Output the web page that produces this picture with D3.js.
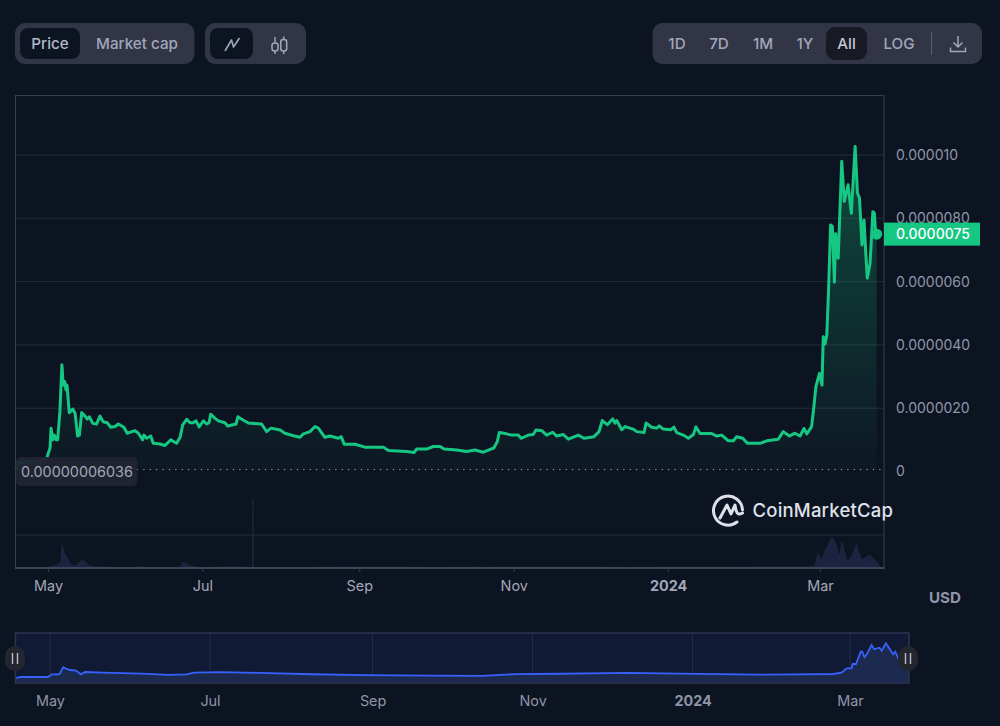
<!DOCTYPE html>
<html>
<head>
<meta charset="utf-8">
<title>Price chart</title>
<script src="https://cdn.jsdelivr.net/npm/d3@7/dist/d3.min.js"></script>
<style>
  html, body { margin: 0; padding: 0; background: #0d1421; }
  svg { display: block; }
  text { font-family: Inter, "Noto Sans", sans-serif; }
</style>
</head>
<body>
<svg id="chart" width="1000" height="726"></svg>
<script>
// Price series: days since 2023-05-01 and price in millionths of a dollar
const priceDays = [-12.6,-12,-8,-3,-0.5,0.8,1.2,1.9,2.5,3.2,3.8,4.7,5.5,6,6.6,7.1,7.5,8.4,9.8,10.7,11.7,12.4,13.3,14.6,15.5,16.3,17.7,19.2,20.5,21.8,23.4,24.8,26.5,27.8,30,31.3,34.4,35.7,37.4,37.9,39,40.6,41.6,44.3,46.2,48.5,50.8,52.2,53.2,54.8,56.1,57.3,58.5,59.7,61.4,62.7,63.6,64.3,66,67.3,69.9,71,74.3,75,75.9,79.1,84.4,86.4,88.1,91.7,93.6,96.9,99.6,100.9,103.5,105.5,106.8,109.4,111.4,114.7,115.8,117.1,121.3,125.2,132.5,134.5,141.7,144.6,145.7,149.6,152.2,154.9,156.5,161.5,165.4,168.7,172,176.2,177.5,178.3,181.2,183.2,185.8,186.9,189.8,191.7,192.8,195.1,197,199.4,201,203.6,205.6,209.5,211.8,215.7,217.7,219,221,223.1,224,224.7,226.7,228,231.2,232.6,235.5,236.3,238.5,240.5,241.5,243.1,246,247.3,248.4,251,253,255,256,257.6,262.2,264.2,266.2,268.8,270.8,272.1,274.5,276.3,281.3,284,288.5,290.5,292.9,295.1,297.1,298.7,299.8,301.7,302.6,303.4,304.8,305.8,306.3,307,307.7,308.4,309.2,309.9,310.7,311.2,312.2,313.6,314.6,316.1,317.4,318.9,319.8,320.6,321.6,322.4,323.1,323.7,324.8,325.9,326.5,327,327.4];
const priceValues = [0.06,0.28,0.30,0.32,0.42,0.74,1.37,1.0,1.15,1.0,1.0,1.89,3.37,2.73,2.84,2.58,2.73,1.86,1.97,1.84,1.12,1.15,1.86,1.75,1.66,1.73,1.52,1.50,1.75,1.57,1.54,1.40,1.42,1.50,1.40,1.21,1.29,1.21,1.0,1.15,1.05,1.12,0.89,0.87,0.82,1.0,0.89,1.08,1.47,1.65,1.54,1.54,1.60,1.41,1.60,1.50,1.54,1.81,1.68,1.60,1.54,1.44,1.50,1.73,1.68,1.53,1.50,1.26,1.37,1.31,1.21,1.13,1.08,1.19,1.26,1.42,1.37,1.08,1.12,1.05,1.10,0.86,0.86,0.77,0.77,0.66,0.63,0.60,0.71,0.71,0.79,0.79,0.71,0.68,0.63,0.68,0.61,0.75,0.94,1.23,1.19,1.15,1.15,1.05,1.15,1.17,1.31,1.29,1.15,1.24,1.12,1.17,1.02,1.15,1.05,1.10,1.26,1.61,1.48,1.66,1.53,1.61,1.32,1.42,1.34,1.26,1.23,1.53,1.40,1.37,1.44,1.34,1.32,1.40,1.23,1.15,1.05,1.17,1.41,1.20,1.20,1.12,1.15,0.97,0.97,1.10,1.05,0.89,0.89,0.97,1.02,1.26,1.12,1.21,1.12,1.36,1.19,1.42,2.05,2.68,3.10,2.73,4.26,4.03,4.31,5.74,7.79,7.75,5.98,7.51,6.74,9.80,8.53,9.06,8.16,10.27,8.80,8.64,7.16,7.95,6.90,6.11,6.58,8.21,8.16,7.50,7.50];

// Traded volume, in millions of dollars
const volumeDays = [-13,-2,2,4,5,5.6,6.4,7.6,8.8,10,11,12.5,13.5,15,16,17.5,21,25,36,38,39,52,53,53.4,54.5,56,57.5,59,75,80.8,81,81.2,118,150,190,230,270,300,303,304.2,305.5,307.8,309.9,311.7,312.6,313.7,315.5,316.9,319.3,321.5,324.8,327.4,328.7];
const volumeValues = [0,0.3,1,2,3.5,13.9,9,6,2.4,1.5,1.5,3.5,4.8,3.5,1.5,0.8,0.6,0.4,0.4,0.8,0.3,0.3,2.4,3.6,2.6,1.4,0.8,0.3,0.6,0.3,42,0.3,0.5,0.4,0.5,0.4,0.5,0.6,1.2,9,4.8,13,18.8,13,6,15.8,4.8,4.8,14,4.8,7.9,3.6,0.6];

// Overview strip series: a coarser sampling of the same price history
const overviewDays = [-13,-11.4,-0.8,0.8,3,3.8,5,6,7.6,9.5,10.7,11.8,13.3,20,35,45,52,55,65,80,100,120,145,165,178,195,220,240,270,285,298.6,301.8,303.7,305.6,306,307.3,309.1,309.7,310.5,311.4,313.2,314.2,316.2,317.1,318.7,320.2,321.5,322.3,323.4,326,327.4];
const overviewValues = [0,0.29,0.29,1.08,1.08,1.3,3.13,2.78,2.34,2.2,1.75,1.08,1.75,1.6,1.3,0.9,1.05,1.55,1.7,1.5,1.1,0.85,0.7,0.65,1.15,1.25,1.5,1.3,1.0,1.05,1.17,1.55,2.84,2.84,4.09,4.09,7.69,7.69,6.05,6.93,9.65,8.39,8.86,7.98,10.14,8.39,6.93,7.69,5.76,7.5,7.5];

const priceTicks = [0, 2, 4, 6, 8, 10];
const priceTickLabels = ["0", "0.0000020", "0.0000040", "0.0000060", "0.0000080", "0.000010"];
const monthTicks = [[2023,4],[2023,6],[2023,8],[2023,10],[2024,0],[2024,2]];
const monthLabels = ["May", "Jul", "Sep", "Nov", "2024", "Mar"];
const lastPrice = 7.5;
const lastPriceLabel = "0.0000075";
const minPrice = 0.06036;
const minPriceLabel = "0.00000006036";
const rangeButtons = ["1D", "7D", "1M", "1Y", "All", "LOG"];

const BG = "#0d1421", PANEL = "#323546", TEXT = "#a1a7bb", GRID = "#262a38",
      FRAME = "#383c50", GREEN = "#16c784", BLUE = "#3861fb";

const svg = d3.select("#chart");
const dayToDate = d => new Date(Date.UTC(2023, 4, 1) + d * 864e5);
const tickDates = monthTicks.map(([y, m]) => new Date(Date.UTC(y, m, 1)));

const x = d3.scaleUtc().domain([dayToDate(-13.04), dayToDate(330.3)]).range([15, 884]);
const y = d3.scaleLinear().domain([0, 10]).range([471.5, 155]);
const yVol = d3.scaleLinear().domain([0, 20]).range([568, 535]);
const xMini = d3.scaleUtc().domain([dayToDate(-13.34), dayToDate(327.5)]).range([15, 909]);
const yMini = d3.scaleLinear().domain([-1.46, 13.3]).range([683, 632.5]);

const pricePoints = priceDays.map((d, i) => ({ date: dayToDate(d), v: priceValues[i] }));
const volumePoints = volumeDays.map((d, i) => ({ date: dayToDate(d), v: volumeValues[i] }));
const overviewPoints = overviewDays.map((d, i) => ({ date: dayToDate(d), v: overviewValues[i] }));

// Gradient under the price line
const defs = svg.append("defs");
const grad = defs.append("linearGradient").attr("id", "priceFill")
  .attr("gradientUnits", "userSpaceOnUse")
  .attr("x1", 0).attr("x2", 0).attr("y1", y(10.3)).attr("y2", y(0));
grad.append("stop").attr("offset", 0).attr("stop-color", GREEN).attr("stop-opacity", 0.3);
grad.append("stop").attr("offset", 1).attr("stop-color", GREEN).attr("stop-opacity", 0.02);

// Toolbar
function panel(x0, x1, y0, y1, fill, r) {
  svg.append("rect").attr("x", x0).attr("y", y0).attr("width", x1 - x0).attr("height", y1 - y0)
    .attr("rx", r).attr("fill", fill);
}
function label(txt, cx, cy, opts = {}) {
  return svg.append("text").attr("x", cx).attr("y", cy).attr("dy", "0.35em")
    .attr("text-anchor", opts.anchor || "middle")
    .attr("font-size", opts.size || 15.2).attr("font-weight", opts.weight || 500)
    .attr("fill", opts.fill || TEXT).text(txt);
}
panel(15, 194.5, 23, 64, PANEL, 10);
panel(20, 80, 28, 59, BG, 8);
label("Price", 50, 43.5, { fill: "#b4b9cb" });
label("Market cap", 137, 43.5);
panel(205, 306, 23, 64, PANEL, 10);
panel(210, 253, 28, 59, BG, 8);
svg.append("path").attr("d", "M225 51 L231.5 40 L233.5 47 L239.5 38")
  .attr("fill", "none").attr("stroke", "#a1a7bb").attr("stroke-width", 1.6).attr("stroke-linejoin", "round");
[[275, 43, 51, 37, 54], [283.7, 39.5, 51, 36.5, 54]].forEach(([cx, t, b, wt, wb]) => {
  svg.append("line").attr("x1", cx).attr("x2", cx).attr("y1", wt).attr("y2", wb)
    .attr("stroke", TEXT).attr("stroke-width", 1.5);
  svg.append("rect").attr("x", cx - 3).attr("width", 6).attr("y", t).attr("height", b - t).attr("rx", 2.5)
    .attr("fill", PANEL).attr("stroke", TEXT).attr("stroke-width", 1.5);
});
panel(652.5, 982, 23, 64, PANEL, 10);
panel(826, 867, 27, 60, "#171924", 9);
const buttonCentres = [677, 719, 763, 805, 846.5, 899];
rangeButtons.forEach((b, i) => label(b, buttonCentres[i], 43.5, b === "All" ? { fill: "#c3c7d6" } : {}));
svg.append("line").attr("x1", 931.5).attr("x2", 931.5).attr("y1", 32).attr("y2", 55)
  .attr("stroke", "#5a5f76").attr("stroke-width", 1);
svg.append("path").attr("d", "M958 36 V47 M953.5 42.5 L958 47 L962.5 42.5 M950.5 47.5 V51.5 H965.5 V47.5")
  .attr("fill", "none").attr("stroke", TEXT).attr("stroke-width", 1.5);

// Price gridlines
svg.append("g").selectAll("line").data(priceTicks.filter(t => t > 0)).join("line")
  .attr("x1", 15).attr("x2", 884).attr("y1", d => y(d)).attr("y2", d => y(d))
  .attr("stroke", GRID).attr("stroke-width", 1);
svg.append("line").attr("x1", 15).attr("x2", 884).attr("y1", yVol(20)).attr("y2", yVol(20))
  .attr("stroke", GRID).attr("stroke-width", 1);

// Volume area
svg.append("path").datum(volumePoints)
  .attr("d", d3.area().x(d => x(d.date)).y0(yVol(0)).y1(d => yVol(d.v)))
  .attr("fill", "#1c2340").attr("stroke", "#262b40").attr("stroke-width", 0.6);

// Price area and line
svg.append("path").datum(pricePoints.filter(d => d.date >= dayToDate(-0.5)))
  .attr("d", d3.area().x(d => x(d.date)).y0(y(0.05)).y1(d => y(d.v)))
  .attr("fill", "url(#priceFill)");
svg.append("line").attr("x1", 137).attr("x2", 884).attr("y1", y(minPrice)).attr("y2", y(minPrice))
  .attr("stroke", "#c7cbd8").attr("stroke-width", 1).attr("stroke-dasharray", "1 5.4");
svg.append("path").datum(pricePoints)
  .attr("d", d3.line().x(d => x(d.date)).y(d => y(d.v)))
  .attr("fill", "none").attr("stroke", GREEN).attr("stroke-width", 3).attr("stroke-linejoin", "round");
svg.append("circle").attr("cx", x(dayToDate(327.4))).attr("cy", y(lastPrice)).attr("r", 5.5).attr("fill", GREEN);

// Plot frame
svg.append("rect").attr("x", 15.5).attr("y", 95.5).attr("width", 868.5).attr("height", 472.5)
  .attr("fill", "none").attr("stroke", FRAME).attr("stroke-width", 1);
svg.append("line").attr("x1", 15).attr("x2", 884.5).attr("y1", 568).attr("y2", 568)
  .attr("stroke", "#3f4357").attr("stroke-width", 2);

// Time axis
const axisMain = d3.axisBottom(x).tickValues(tickDates).tickSize(4).tickPadding(9)
  .tickFormat((d, i) => monthLabels[i]);
const gx = svg.append("g").attr("transform", "translate(0,568)").call(axisMain);
gx.select(".domain").remove();
gx.selectAll("line").attr("stroke", FRAME);
gx.selectAll("text").attr("fill", TEXT).attr("font-size", 14.4).attr("font-family", "Inter, sans-serif")
  .attr("font-weight", (d, i) => monthLabels[i] === "2024" ? 700 : 400);

// Price axis
const axisPrice = d3.axisRight(y).tickValues(priceTicks).tickSize(0).tickPadding(12)
  .tickFormat((d, i) => priceTickLabels[i]);
const gy = svg.append("g").attr("transform", "translate(884,0)").call(axisPrice);
gy.select(".domain").remove();
gy.selectAll("text").attr("fill", "#9096aa").attr("font-size", 14).attr("font-family", "Inter, sans-serif");

// Last price tag
svg.append("rect").attr("x", 884).attr("y", y(lastPrice) - 11.5).attr("width", 96).attr("height", 23).attr("fill", GREEN);
label(lastPriceLabel, 896, y(lastPrice), { anchor: "start", size: 14, weight: 500, fill: "#ffffff" });

// Lowest price tag
svg.append("rect").attr("x", 16).attr("y", 457).attr("width", 121.5).attr("height", 29).attr("rx", 5)
  .attr("fill", "#222531").attr("fill-opacity", 0.95);
label(minPriceLabel, 21, 472, { anchor: "start", size: 14.4, weight: 400 });

// Wordmark
const logo = svg.append("g").attr("fill", "none").attr("stroke", "#dfe1ea").attr("stroke-width", 3)
  .attr("stroke-linecap", "round").attr("stroke-linejoin", "round");
logo.append("path").attr("d", "M737 522 A14.5 14.5 0 1 1 742.5 510");
logo.append("path").attr("d", "M720 518 L727 505 L731 514 L735 505 C736 512 737 516 742.5 513");
svg.append("text").attr("x", 752.5).attr("y", 510.5).attr("dy", "0.35em")
  .attr("font-size", 18.5).attr("font-weight", 500).attr("letter-spacing", 0.2).attr("fill", "#dfe1ea").text("CoinMarketCap");

label("USD", 945, 598, { size: 15.2, weight: 700, fill: "#8f94a8" });

// Overview strip
svg.append("rect").attr("x", 15).attr("y", 632.5).attr("width", 894).attr("height", 50.5).attr("fill", "#111a35");
svg.append("g").selectAll("line").data(tickDates).join("line")
  .attr("x1", d => xMini(d)).attr("x2", d => xMini(d)).attr("y1", 633).attr("y2", 683)
  .attr("stroke", "#252c48").attr("stroke-width", 1);
svg.append("path").datum(overviewPoints)
  .attr("d", d3.area().x(d => xMini(d.date)).y0(683).y1(d => yMini(d.v)))
  .attr("fill", "#1c2a50");
svg.append("path").datum(overviewPoints)
  .attr("d", d3.line().x(d => xMini(d.date)).y(d => yMini(d.v)))
  .attr("fill", "none").attr("stroke", BLUE).attr("stroke-width", 1.8);
svg.append("rect").attr("x", 15.5).attr("y", 633).attr("width", 893.5).attr("height", 50)
  .attr("fill", "none").attr("stroke", "#2e3350").attr("stroke-width", 1.5);
const axisMini = d3.axisBottom(xMini).tickValues(tickDates).tickSize(0).tickPadding(13)
  .tickFormat((d, i) => monthLabels[i]);
const gm = svg.append("g").attr("transform", "translate(0,683)").call(axisMini);
gm.select(".domain").remove();
gm.selectAll("text").attr("fill", "#8f94a8").attr("font-size", 14.4).attr("font-family", "Inter, sans-serif")
  .attr("font-weight", (d, i) => monthLabels[i] === "2024" ? 700 : 400);

// Overview drag handles
[15, 908].forEach(cx => {
  svg.append("rect").attr("x", cx - 10).attr("y", 646).attr("width", 20).attr("height", 25).attr("rx", 10)
    .attr("fill", "#23262f");
  [-2.5, 2.5].forEach(dx => svg.append("line").attr("x1", cx + dx).attr("x2", cx + dx)
    .attr("y1", 653).attr("y2", 664).attr("stroke", "#b8bccb").attr("stroke-width", 1.4));
});
</script>
</body>
</html>
